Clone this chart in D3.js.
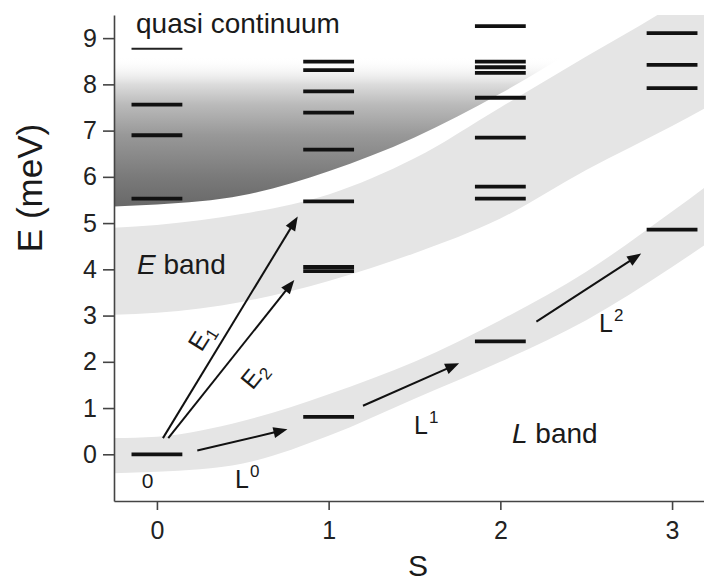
<!DOCTYPE html>
<html>
<head>
  <meta charset="utf-8">
  <style>
    body{ margin:0; background:#fff; }
    svg text{ font-family:"Liberation Sans", Arial, Helvetica, sans-serif; fill:#1a1a1a; }
    .axis .domain, .axis line{ stroke:#444; stroke-width:1.6px; }
    .axis text{ font-size:25px; fill:#222; }
    .band{ fill:#e5e5e5; }
    .level{ stroke:#111; stroke-width:3.8px; }
    .level-thin{ stroke:#222; stroke-width:1.8px; }
    .arrow{ stroke:#111; stroke-width:2px; }
    .label{ font-size:28px; }
  </style>
  <script src="https://d3js.org/d3.v7.min.js"></script>
</head>
<body>
<div class="chart"></div>
<script>
// levels (meV) in each S column
const levelS = [0, 1, 2, 3];
const levels0 = [0, 5.53, 6.90, 7.56];
const levels1 = [0.81, 3.96, 4.05, 5.47, 6.59, 7.39, 7.85, 8.31, 8.49];
const levels2 = [2.44, 5.53, 5.79, 6.85, 7.71, 8.25, 8.37, 8.49, 9.26];
const levels3 = [4.86, 7.92, 8.42, 9.11];
const thinLevelS = [0];
const thinLevelE = [8.77];

// band edges
const bandS        = [-0.25, 0, 0.5, 1, 1.5, 2, 2.5, 3, 3.2];
const lBandTop     = [0.35, 0.38, 0.72, 1.3, 2.0, 2.9, 3.95, 5.25, 5.8];
const lBandBottom  = [-0.41, -0.38, -0.2, 0.4, 1.2, 2.0, 2.9, 4.05, 4.55];
const eBandTop     = [4.9, 4.96, 5.2, 5.62, 6.4, 7.5, 8.6, 9.7, 10.2];
const eBandBottom  = [3.02, 3.06, 3.3, 3.75, 4.35, 5.1, 6.15, 7.1, 7.5];
const contBottom   = [5.36, 5.4, 5.6, 6.12, 6.85, 7.8, 8.9, 10.0, 10.4];

// transitions
const arrowFromS = [0.035, 0.066, 0.235, 1.2, 2.21];
const arrowFromE = [0.35, 0.35, 0.08, 1.05, 2.87];
const arrowToS   = [0.82, 0.80, 0.76, 1.76, 2.82];
const arrowToE   = [5.14, 3.77, 0.54, 1.97, 4.34];

const xTicks = [0, 1, 2, 3];
const yTicks = [0, 1, 2, 3, 4, 5, 6, 7, 8, 9];

const width = 704, height = 583;
const svg = d3.select('.chart').append('svg')
  .attr('width', width).attr('height', height);

const x = d3.scaleLinear().domain([-0.25, 3.186]).range([114, 704]);
const y = d3.scaleLinear().domain([-1.01, 9.5]).range([501, 15]);

const defs = svg.append('defs');
defs.append('clipPath').attr('id', 'plot')
  .append('rect')
  .attr('x', x(-0.25)).attr('y', y(9.5))
  .attr('width', x(3.186) - x(-0.25)).attr('height', y(-1.01) - y(9.5));

// quasi continuum shading, dark at the bottom fading out upward
const gradStops = [[5.35, '#686868', 1], [6.0, '#7a7a7a', 1], [6.9, '#989898', 1],
                   [7.56, '#bababa', 1], [8.0, '#dcdcdc', 1], [8.6, '#ffffff', 0]];
const grad = defs.append('linearGradient').attr('id', 'cont')
  .attr('gradientUnits', 'userSpaceOnUse')
  .attr('x1', 0).attr('x2', 0)
  .attr('y1', y(5.35)).attr('y2', y(8.6));
grad.selectAll('stop').data(gradStops).join('stop')
  .attr('offset', d => (d[0] - 5.35) / (8.6 - 5.35))
  .attr('stop-color', d => d[1])
  .attr('stop-opacity', d => d[2]);

const plot = svg.append('g').attr('clip-path', 'url(#plot)');

const band = (top, bottom) => d3.area()
  .curve(d3.curveMonotoneX)
  .x((d, i) => x(bandS[i]))
  .y0((d, i) => y(bottom[i]))
  .y1((d, i) => y(top[i]))(bandS);

plot.append('path').attr('class', 'band').attr('d', band(eBandTop, eBandBottom));
plot.append('path').attr('class', 'band').attr('d', band(lBandTop, lBandBottom));
plot.append('path').attr('fill', 'url(#cont)')
  .attr('d', band(bandS.map(() => 9.5), contBottom));

// energy levels
const half = 0.148;
const allLevels = [levels0, levels1, levels2, levels3];
allLevels.forEach((arr, k) => {
  svg.append('g').selectAll('line').data(arr).join('line')
    .attr('class', 'level')
    .attr('x1', x(levelS[k] - half)).attr('x2', x(levelS[k] + half))
    .attr('y1', d => y(d)).attr('y2', d => y(d));
});
svg.append('g').selectAll('line').data(thinLevelE).join('line')
  .attr('class', 'level-thin')
  .attr('x1', (d, i) => x(thinLevelS[i] - half)).attr('x2', (d, i) => x(thinLevelS[i] + half))
  .attr('y1', d => y(d)).attr('y2', d => y(d));

// arrows
const headL = 14, headW = 5.5;
const ag = svg.append('g');
arrowFromS.forEach((s, i) => {
  const x0 = x(s), y0 = y(arrowFromE[i]);
  const x1 = x(arrowToS[i]), y1 = y(arrowToE[i]);
  const len = Math.hypot(x1 - x0, y1 - y0);
  const ux = (x1 - x0) / len, uy = (y1 - y0) / len;
  const bx = x1 - ux * headL, by = y1 - uy * headL;
  ag.append('line').attr('class', 'arrow')
    .attr('x1', x0).attr('y1', y0)
    .attr('x2', bx + ux * 2).attr('y2', by + uy * 2);
  ag.append('path').attr('fill', '#111')
    .attr('d', `M${x1},${y1}L${bx - uy * headW},${by + ux * headW}L${bx + uy * headW},${by - ux * headW}Z`);
});

// text labels
svg.append('text').attr('class', 'label').attr('x', 136).attr('y', 33)
  .attr('font-size', 29).text('quasi continuum');

const eb = svg.append('text').attr('class', 'label').attr('x', 137).attr('y', 274);
eb.append('tspan').attr('font-style', 'italic').text('E');
eb.append('tspan').text(' band');

const lb = svg.append('text').attr('class', 'label').attr('x', 512).attr('y', 443);
lb.append('tspan').attr('font-style', 'italic').text('L');
lb.append('tspan').text(' band');

svg.append('text').attr('x', 147.5).attr('y', 488).attr('text-anchor', 'middle')
  .attr('font-size', 21).text('0');

const lLabels = [[235, 488, '0'], [414, 434, '1'], [599, 332, '2']];
lLabels.forEach(d => {
  const t = svg.append('text').attr('x', d[0]).attr('y', d[1]).attr('font-size', 25);
  t.append('tspan').text('L');
  t.append('tspan').attr('font-size', 17).attr('dy', -11).attr('dx', 1).text(d[2]);
});

const eLabels = [[201, 337, -58, '1'], [254, 375, -51, '2']];
eLabels.forEach(d => {
  const t = svg.append('text')
    .attr('transform', `translate(${d[0]},${d[1]}) rotate(${d[2]})`)
    .attr('text-anchor', 'middle').attr('dy', '0.35em').attr('font-size', 25);
  t.append('tspan').text('E');
  t.append('tspan').attr('font-size', 17).attr('dy', 5).text(d[3]);
});

// axes
svg.append('g').attr('class', 'axis')
  .attr('transform', `translate(${x(-0.25)},0)`)
  .call(d3.axisLeft(y).tickValues(yTicks).tickFormat(d3.format('d'))
    .tickSize(11).tickSizeOuter(0).tickPadding(6));

svg.append('g').attr('class', 'axis')
  .attr('transform', `translate(0,${y(-1.01)})`)
  .call(d3.axisBottom(x).tickValues(xTicks).tickFormat(d3.format('d'))
    .tickSize(9).tickSizeOuter(0).tickPadding(11));

svg.selectAll('.axis text').attr('font-family', null);

svg.append('text').attr('transform', 'translate(42,188) rotate(-90)')
  .attr('text-anchor', 'middle').attr('font-size', 35).text('E (meV)');
svg.append('text').attr('x', 418).attr('y', 576)
  .attr('text-anchor', 'middle').attr('font-size', 30).text('S');
</script>
</body>
</html>
